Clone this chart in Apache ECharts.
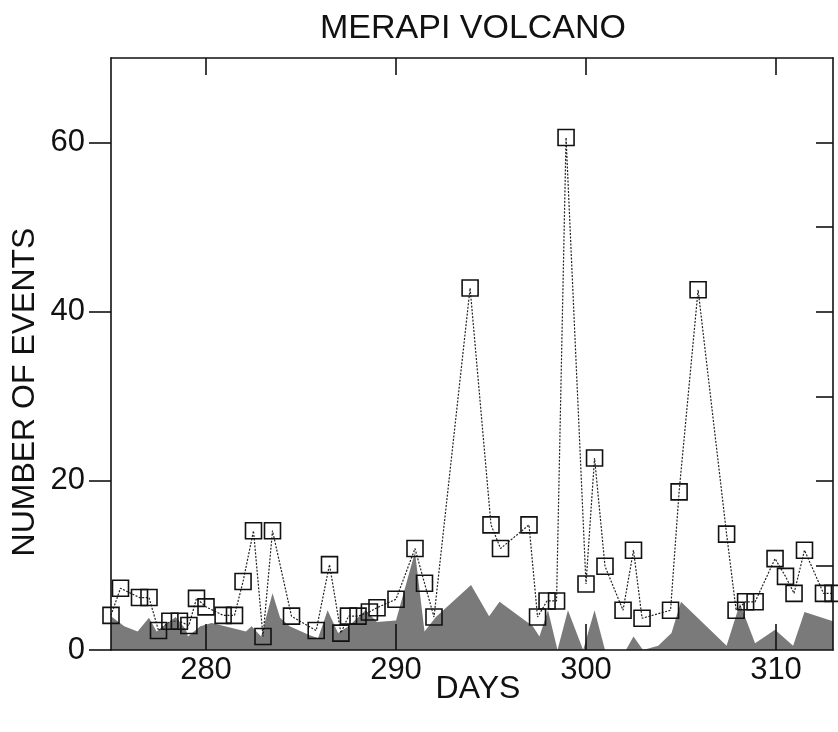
<!DOCTYPE html>
<html><head><meta charset="utf-8">
<script src="https://cdn.jsdelivr.net/npm/echarts@6/dist/echarts.min.js"></script>
<style>html,body{margin:0;padding:0;background:#fff}#c{width:838px;height:732px}</style>
</head><body><div id="c"></div>
<script>
// Tick values
const xTicks = [280, 290, 300, 310];
const yTicksLeft = [0, 20, 40, 60];
const yTicksRight = [10, 20, 30, 40, 50, 60];

// Number of events (squares with dotted line)
const eventDays = [275.0, 275.5, 276.5, 277.0, 277.5, 278.1, 278.6, 279.1, 279.5, 280.0, 280.9, 281.5, 281.95, 282.5, 283.0, 283.5, 284.5, 285.8, 286.5, 287.1, 287.5, 288.0, 288.6, 289.0, 290.0, 291.0, 291.5, 292.0, 293.9, 295.0, 295.5, 297.0, 297.45, 297.95, 298.45, 298.95, 300.0, 300.45, 301.0, 301.95, 302.5, 302.95, 304.45, 304.9, 305.9, 307.4, 307.9, 308.4, 308.9, 309.95, 310.5, 310.95, 311.5, 312.5, 313.0];
const eventCounts = [4.1, 7.3, 6.2, 6.2, 2.3, 3.4, 3.4, 2.9, 6.1, 5.1, 4.1, 4.1, 8.1, 14.1, 1.6, 14.1, 4.0, 2.3, 10.1, 2.0, 4.0, 4.0, 4.5, 5.0, 6.0, 12.0, 7.9, 3.9, 42.8, 14.8, 12.0, 14.8, 3.9, 5.8, 5.8, 60.6, 7.8, 22.7, 9.9, 4.7, 11.8, 3.75, 4.7, 18.7, 42.6, 13.7, 4.7, 5.7, 5.7, 10.8, 8.7, 6.7, 11.8, 6.7, 6.7];

// Shaded series
const shadeDays = [275.0, 275.7, 276.4, 277.0, 277.4, 278.0, 278.4, 278.95, 279.05, 279.7, 280.3, 281.0, 282.1, 282.4, 282.9, 283.5, 283.9, 284.4, 285.4, 285.9, 286.4, 286.95, 287.5, 288.4, 289.0, 290.0, 291.0, 291.5, 292.1, 293.95, 294.9, 295.45, 297.2, 297.55, 298.0, 298.5, 299.05, 299.85, 300.45, 301.0, 302.1, 302.5, 303.0, 303.8, 304.5, 305.0, 307.4, 308.1, 308.9, 309.95, 310.9, 311.5, 313.0];
const shadeCounts = [4.0, 2.8, 2.2, 3.8, 2.2, 3.2, 3.9, 2.4, 1.6, 2.8, 3.2, 2.8, 2.2, 2.8, 1.6, 6.7, 3.8, 2.8, 1.8, 1.4, 4.7, 2.0, 2.8, 4.7, 3.3, 3.5, 11.6, 2.2, 3.9, 7.7, 4.0, 5.7, 2.8, 1.6, 4.7, 0, 4.7, 0, 4.7, 0, 0, 1.6, 0, 0.5, 2.0, 5.7, 0.5, 5.5, 0.8, 2.4, 0.5, 4.5, 3.4];

const FONT = '"Liberation Sans", Arial, Helvetica, sans-serif';
const INK = '#111';

const eventData = eventDays.map((d, i) => [d, eventCounts[i]]);
const shadeData = shadeDays.map((d, i) => [d, shadeCounts[i]]);

const axisLine = {show: true, onZero: false, lineStyle: {color: INK, width: 1.6}};

const chart = echarts.init(document.getElementById('c'), null, {renderer: 'canvas'});
chart.setOption({
  animation: false,
  backgroundColor: '#fff',
  grid: {left: 111, right: 5, top: 58, bottom: 82, containLabel: false},
  xAxis: [
    {type: 'value', position: 'bottom', min: 275, max: 313, z: 5,
     axisLine: axisLine,
     axisTick: {show: true, inside: true, length: 26, customValues: xTicks, lineStyle: {color: INK, width: 1.6}},
     axisLabel: {show: true, customValues: xTicks, margin: 5, fontSize: 31, fontFamily: FONT, color: INK},
     splitLine: {show: false}},
    {type: 'value', position: 'top', min: 275, max: 313, z: 5,
     axisLine: axisLine,
     axisTick: {show: true, inside: true, length: 17, customValues: xTicks, lineStyle: {color: INK, width: 1.6}},
     axisLabel: {show: false},
     splitLine: {show: false}}
  ],
  yAxis: [
    {type: 'value', position: 'left', min: 0, max: 70, z: 5,
     axisLine: axisLine,
     axisTick: {show: true, inside: false, length: 22, customValues: yTicksLeft, lineStyle: {color: INK, width: 1.6}},
     axisLabel: {show: true, customValues: yTicksLeft, margin: 26, fontSize: 31, fontFamily: FONT, color: INK},
     splitLine: {show: false}},
    {type: 'value', position: 'right', min: 0, max: 70, z: 5,
     axisLine: axisLine,
     axisTick: {show: true, inside: true, length: 17, customValues: yTicksRight, lineStyle: {color: INK, width: 1.6}},
     axisLabel: {show: false},
     splitLine: {show: false}}
  ],
  graphic: [
    {type: 'text', x: 473, y: 29, style: {text: 'MERAPI VOLCANO', font: '34px ' + FONT, fill: INK, align: 'center', verticalAlign: 'middle', textAlign: 'center', textVerticalAlign: 'middle'}},
    {type: 'text', x: 478, y: 689, style: {text: 'DAYS', font: '32px ' + FONT, fill: INK, align: 'center', verticalAlign: 'middle', textAlign: 'center', textVerticalAlign: 'middle'}},
    {type: 'text', x: 25, y: 392, rotation: Math.PI / 2, style: {text: 'NUMBER OF EVENTS', font: '32px ' + FONT, fill: INK, align: 'center', verticalAlign: 'middle', textAlign: 'center', textVerticalAlign: 'middle'}}
  ],
  series: [
    {type: 'line', name: 'shade', data: shadeData, xAxisIndex: 0, yAxisIndex: 0,
     symbol: 'none', smooth: false, z: 1,
     lineStyle: {width: 0, color: '#7a7a7a'},
     areaStyle: {color: '#7a7a7a', opacity: 1, origin: 'start'}},
    {type: 'line', name: 'events', data: eventData, xAxisIndex: 0, yAxisIndex: 0,
     symbol: 'rect', symbolSize: 16, clip: false, z: 3,
     lineStyle: {color: '#222', width: 1.2, type: [2, 1.5]},
     itemStyle: {color: 'rgba(255,255,255,0)', borderColor: INK, borderWidth: 1.6}}
  ]
});
</script>
</body></html>
